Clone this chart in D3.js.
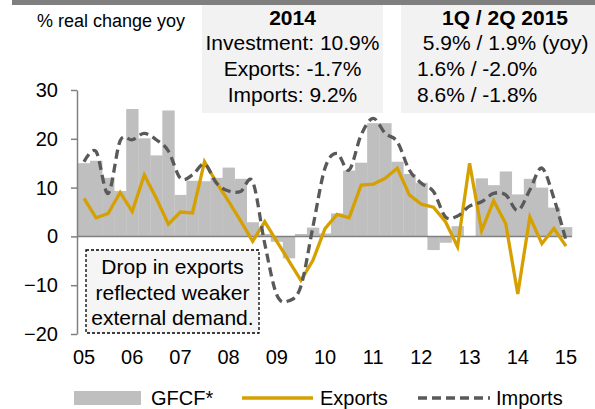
<!DOCTYPE html>
<html>
<head>
<meta charset="utf-8">
<script src="https://cdn.jsdelivr.net/npm/d3@7/dist/d3.min.js"></script>
<style>
  body { margin: 0; background: #fff; }
  svg { display: block; font-family: "Liberation Sans", Arial, sans-serif; }
</style>
</head>
<body>
<div id="chart"></div>
<script>
// quarterly data, 2005Q2 .. 2015Q2
const quarters = [
  "2005Q2","2005Q3","2005Q4","2006Q1","2006Q2","2006Q3","2006Q4","2007Q1","2007Q2","2007Q3","2007Q4",
  "2008Q1","2008Q2","2008Q3","2008Q4","2009Q1","2009Q2","2009Q3","2009Q4","2010Q1","2010Q2","2010Q3",
  "2010Q4","2011Q1","2011Q2","2011Q3","2011Q4","2012Q1","2012Q2","2012Q3","2012Q4","2013Q1","2013Q2",
  "2013Q3","2013Q4","2014Q1","2014Q2","2014Q3","2014Q4","2015Q1","2015Q2"
];
const gfcf = [15.0, 15.5, 12.0, 9.3, 26.1, 20.1, 16.6, 25.8, 8.5, 11.4, 11.3,
  12.0, 14.1, 11.8, 2.9, 0.5, -1.1, -4.5, 0.5, 1.8, 0.6, 4.7,
  13.5, 15.1, 23.2, 23.2, 15.3, 12.8, 11.0, -2.8, -1.3, 2.1, 0.0,
  11.9, 10.5, 13.3, 8.6, 11.8, 10.0, 5.9, 1.9];
const exportsYoy = [7.8, 3.8, 4.7, 9.0, 5.1, 12.6, 7.8, 2.5, 5.0, 4.8, 15.3,
  11.0, 7.2, 3.2, -1.0, 3.0, -1.0, -5.0, -9.0, -4.9, 1.6, 4.5,
  3.8, 10.5, 10.7, 11.9, 14.0, 8.5, 6.6, 6.0, 3.0, -2.1, 15.0,
  1.2, 7.3, 2.6, -11.8, 4.0, -1.5, 1.6, -2.0];
const importsYoy = [15.3, 17.4, 8.8, 19.6, 19.8, 21.1, 19.8, 17.5, 11.9, 12.6, 14.8,
  10.9, 9.3, 9.2, 11.2, -1.5, -12.0, -13.2, -10.2, 2.0, 14.0, 17.0,
  13.6, 20.8, 24.2, 21.1, 19.4, 13.6, 10.9, 9.2, 4.0, 4.2, 6.2,
  7.1, 8.8, 8.5, 5.3, 9.5, 14.0, 7.8, -0.8];

const yearTicks = ["2005Q2","2006Q2","2007Q2","2008Q2","2009Q2","2010Q2","2011Q2","2012Q2","2013Q2","2014Q2","2015Q2"];
const yearLabels = ["05","06","07","08","09","10","11","12","13","14","15"];
const yTicks = [-20, -10, 0, 10, 20, 30];

const box2014 = ["Investment: 10.9%", "Exports: -1.7%", "Imports: 9.2%"];
const box2015 = [" 5.9% / 1.9% (yoy)", "1.6% / -2.0%", "8.6% / -1.8%"];
const noteLines = ["Drop in exports", "reflected weaker", "external demand."];

const width = 595, height = 409;
const svg = d3.select("#chart").append("svg")
  .attr("width", width).attr("height", height);

const x = d3.scaleBand().domain(quarters).range([78, 572]).padding(0);
const y = d3.scaleLinear().domain([-20, 30]).range([334, 90]);

// header strip (cut off at top)
svg.append("rect").attr("x", 12).attr("y", 0).attr("width", width - 12).attr("height", 5).attr("fill", "#7f7f7f");

// info boxes
svg.append("rect").attr("x", 202).attr("y", 5).attr("width", 181).attr("height", 108).attr("fill", "#f2f2f2");
svg.append("rect").attr("x", 401).attr("y", 5).attr("width", 194).attr("height", 108).attr("fill", "#f2f2f2");

svg.append("text").attr("x", 37).attr("y", 27).attr("font-size", 18).attr("fill", "#000")
  .text("% real change yoy");

svg.append("text").attr("x", 292.5).attr("y", 25).attr("text-anchor", "middle")
  .attr("font-size", 21).attr("font-weight", "bold").text("2014");
svg.selectAll(".b14").data(box2014).enter().append("text")
  .attr("x", 292.5).attr("y", (d, i) => 50 + i * 25.8)
  .attr("text-anchor", "middle").attr("font-size", 21).text(d => d);

svg.append("text").attr("x", 505).attr("y", 25).attr("text-anchor", "middle")
  .attr("font-size", 21).attr("font-weight", "bold").text("1Q / 2Q 2015");
svg.selectAll(".b15").data(box2015).enter().append("text")
  .attr("x", 417).attr("y", (d, i) => 50 + i * 25.8)
  .attr("font-size", 21).style("white-space", "pre").text(d => d);

// bars
svg.append("g").selectAll("rect").data(gfcf).enter().append("rect")
  .attr("x", (d, i) => x(quarters[i]))
  .attr("width", x.bandwidth() + 0.3)
  .attr("y", d => y(Math.max(0, d)))
  .attr("height", d => Math.abs(y(d) - y(0)))
  .attr("fill", "#bfbfbf");

// y axis
const yAxis = svg.append("g").attr("transform", "translate(77,0)")
  .call(d3.axisLeft(y).tickValues(yTicks).tickSize(6).tickPadding(13).tickSizeOuter(0));
yAxis.select(".domain").attr("stroke", "#808080").attr("stroke-width", 1.5);
yAxis.selectAll(".tick line").attr("stroke", "#808080").attr("stroke-width", 1.5);
yAxis.selectAll(".tick text").attr("font-size", 20).attr("fill", "#000")
  .attr("font-family", "'Liberation Sans', Arial, sans-serif");

// zero line
svg.append("line").attr("x1", 77).attr("x2", 572).attr("y1", y(0)).attr("y2", y(0))
  .attr("stroke", "#808080").attr("stroke-width", 1.5);

// year labels
svg.append("g").selectAll("text").data(yearTicks).enter().append("text")
  .attr("x", d => x(d) + x.bandwidth() / 2)
  .attr("y", 364)
  .attr("text-anchor", "middle").attr("font-size", 20)
  .text((d, i) => yearLabels[i]);

const cx = (d, i) => x(quarters[i]) + x.bandwidth() / 2;

svg.append("path").datum(exportsYoy)
  .attr("fill", "none").attr("stroke", "#d6a000").attr("stroke-width", 3.3)
  .attr("stroke-linejoin", "miter")
  .attr("d", d3.line().x(cx).y(d => y(d)));

svg.append("path").datum(importsYoy)
  .attr("fill", "none").attr("stroke", "#595959").attr("stroke-width", 3.3)
  .attr("stroke-dasharray", "9,5")
  .attr("d", d3.line().x(cx).y(d => y(d)).curve(d3.curveCardinal.tension(0)));

// note box
svg.append("rect").attr("x", 86).attr("y", 250).attr("width", 173).attr("height", 83)
  .attr("fill", "#f5f5f5").attr("stroke", "#000").attr("stroke-width", 1.3)
  .attr("stroke-dasharray", "3,2");
svg.selectAll(".note").data(noteLines).enter().append("text")
  .attr("x", 172.5).attr("y", (d, i) => 274 + i * 25.5)
  .attr("text-anchor", "middle").attr("font-size", 21).text(d => d);

// legend
const lg = svg.append("g");
lg.append("rect").attr("x", 74).attr("y", 391).attr("width", 67).attr("height", 14).attr("fill", "#bfbfbf");
lg.append("text").attr("x", 151).attr("y", 405).attr("font-size", 20).text("GFCF*");
lg.append("line").attr("x1", 242).attr("x2", 313).attr("y1", 398).attr("y2", 398)
  .attr("stroke", "#d6a000").attr("stroke-width", 3.3);
lg.append("text").attr("x", 320).attr("y", 405).attr("font-size", 20).text("Exports");
lg.append("line").attr("x1", 418).attr("x2", 490).attr("y1", 398).attr("y2", 398)
  .attr("stroke", "#595959").attr("stroke-width", 3.3).attr("stroke-dasharray", "9,5");
lg.append("text").attr("x", 496).attr("y", 405).attr("font-size", 20).text("Imports");
</script>
</body>
</html>
